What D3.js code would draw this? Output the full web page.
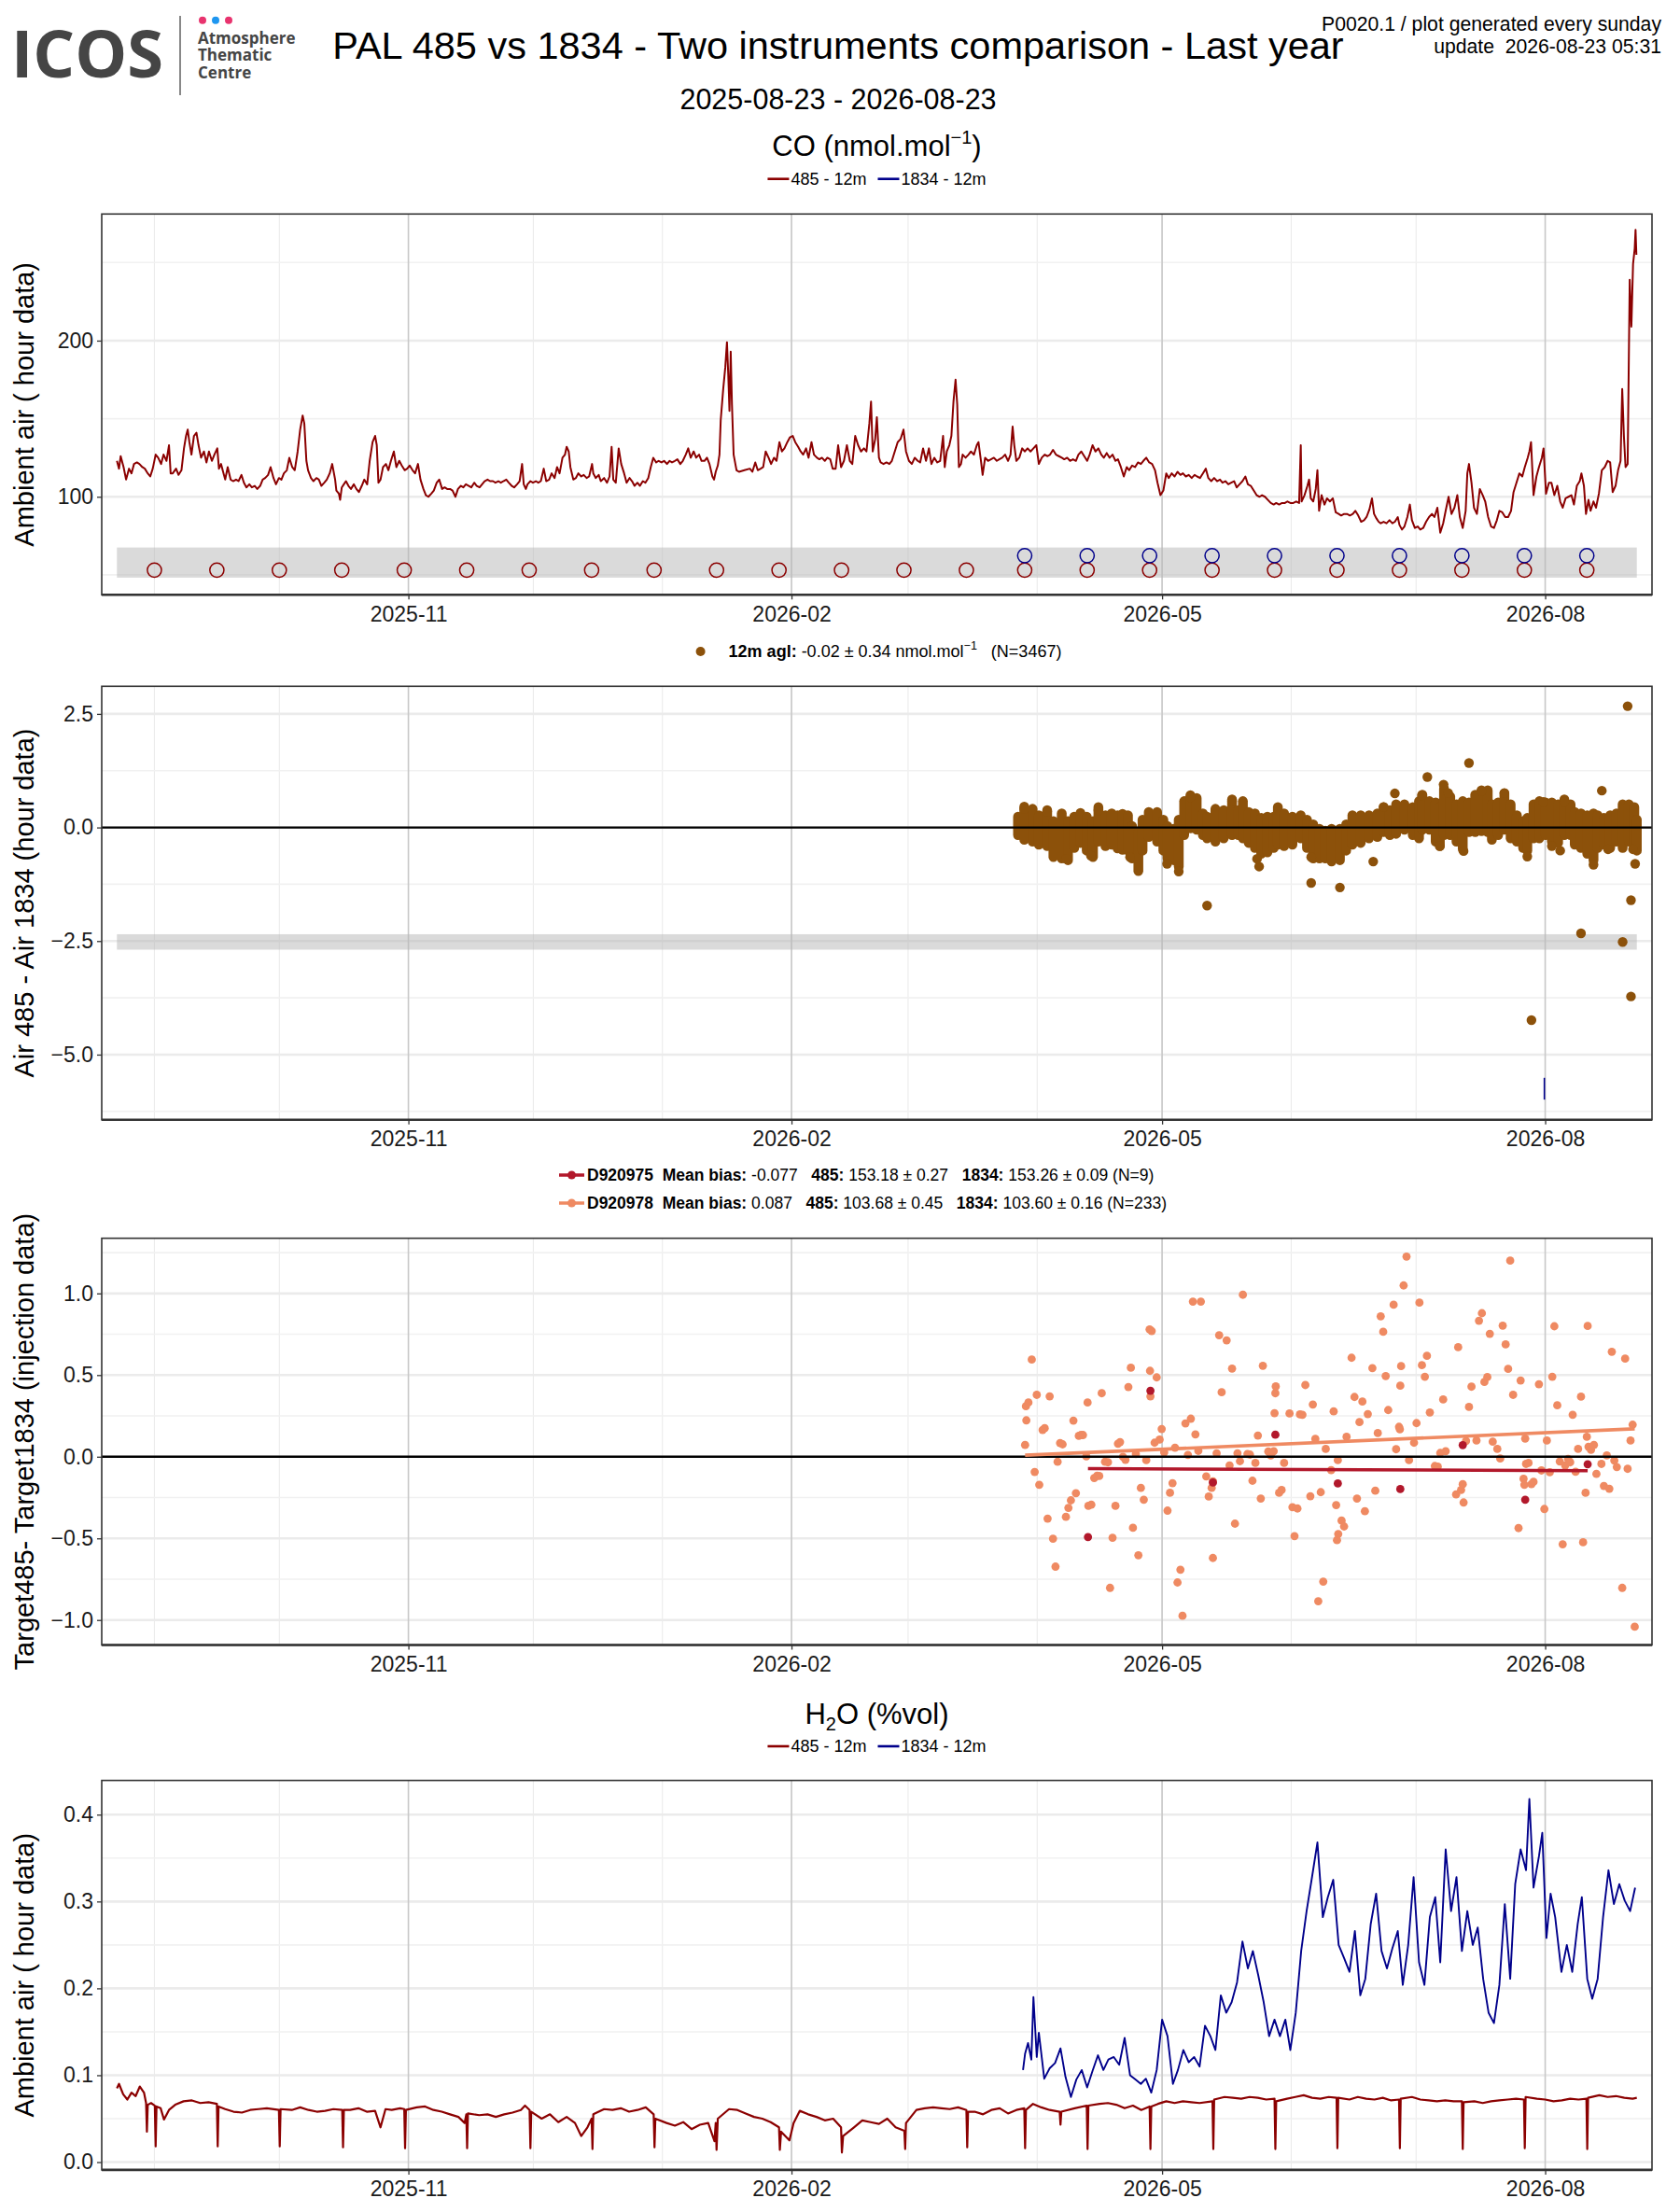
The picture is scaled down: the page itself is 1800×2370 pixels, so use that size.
<!DOCTYPE html>
<html><head><meta charset="utf-8">
<script src="https://cdn.jsdelivr.net/npm/d3@7"></script>
<style>
body{margin:0;background:#fff}
svg text{font-family:"Liberation Sans",Arial,Helvetica,sans-serif;white-space:pre}
</style>
</head><body>
<svg id="chart" width="1800" height="2370"></svg>
<script>
// ---------------- DATA ----------------
const startDate = "2025-08-23";
const endDate = "2026-08-23";
const xTickLabels = ["2025-11","2026-02","2026-05","2026-08"];
const mainTitle = "PAL 485 vs 1834 - Two instruments comparison - Last year";
const infoLines = ["P0020.1 / plot generated every sunday","update  2026-08-23 05:31"];

// CO 485 hourly series, [day since start, nmol/mol]
const co485 = [[0,123],[0.5,118],[0.9,126],[1.6,119],[2.2,111],[2.9,118],[3.5,115],[4.1,121],[4.8,122],[5.4,121],[6.1,119],[6.7,118],[7.4,115],[8.0,113],[8.6,118],[9.3,127],[9.9,125],[10.6,121],[11.2,127],[11.9,123],[12.5,133],[12.9,115],[13.4,115],[14.2,118],[14.8,114],[15.5,117],[16.1,131],[16.6,139],[17.0,143],[17.4,135],[17.9,127],[18.5,139],[19.1,141],[19.6,133],[20.2,125],[20.9,129],[21.5,122],[22.1,129],[22.8,123],[23.4,127],[24.1,131],[24.5,118],[25.0,121],[25.5,116],[26.0,111],[26.6,119],[27.3,111],[27.9,110],[28.6,111],[29.2,110],[29.9,114],[30.5,109],[31.1,106],[31.8,108],[32.4,106],[33.1,107],[33.7,105],[34.4,107],[35.0,111],[35.6,112],[36.3,114],[36.9,119],[37.6,112],[38.2,108],[38.9,112],[39.5,111],[40.1,115],[40.8,117],[41.4,125],[42.1,119],[42.7,117],[43.4,129],[44.0,143],[44.6,152],[45.0,147],[45.5,123],[45.9,117],[46.6,112],[47.2,110],[47.9,112],[48.5,111],[49.1,107],[49.8,109],[50.4,111],[51.1,115],[51.7,121],[52.4,111],[52.7,104],[53.3,102],[53.6,98],[54.0,106],[54.5,108],[55.0,110],[55.6,107],[56.2,105],[56.9,108],[57.5,105],[58.1,103],[58.8,107],[59.4,111],[60.1,108],[60.7,123],[61.4,135],[62.0,139],[62.4,133],[62.8,109],[63.3,111],[63.9,119],[64.6,121],[65.2,117],[65.8,123],[66.5,129],[67.1,119],[67.8,123],[68.4,120],[69.1,117],[69.7,118],[70.3,120],[71.0,117],[71.6,115],[72.3,121],[72.9,111],[73.6,105],[74.2,101],[74.8,100],[75.5,102],[76.1,104],[76.8,109],[77.4,111],[78.1,105],[78.7,106],[79.3,105],[80.0,105],[80.6,104],[81.3,100],[81.9,105],[82.6,107],[83.2,106],[83.8,108],[84.5,107],[85.1,106],[85.8,109],[86.4,107],[87.1,106],[87.7,108],[88.3,110],[89.0,111],[89.6,110],[90.3,110],[90.9,109],[91.6,110],[92.2,109],[92.8,110],[93.5,111],[94.1,109],[94.8,107],[95.4,106],[96.1,108],[96.7,110],[97.3,121],[97.7,108],[98.2,105],[98.6,108],[99.3,110],[99.9,109],[100.6,110],[101.2,109],[101.8,110],[102.5,118],[103.1,110],[103.8,111],[104.4,115],[105.1,112],[105.7,119],[106.3,115],[107.0,125],[107.6,127],[108.0,132],[108.5,129],[108.9,119],[109.6,111],[110.2,112],[110.8,115],[111.5,113],[112.1,114],[112.8,112],[113.4,113],[114.1,121],[114.4,115],[115.0,112],[115.7,114],[116.2,110],[117.0,112],[117.7,109],[118.3,113],[118.8,132],[119.2,111],[119.8,109],[120.5,131],[121.1,121],[121.8,115],[122.4,109],[123.1,112],[123.7,110],[124.3,107],[125.0,109],[125.6,107],[126.3,110],[126.9,109],[127.6,112],[128.2,119],[128.8,125],[129.5,122],[130.1,123],[130.8,122],[131.4,123],[132.1,121],[132.7,123],[133.3,122],[134.0,123],[134.6,124],[135.3,121],[135.9,123],[136.6,127],[137.2,131],[137.8,125],[138.5,129],[139.1,125],[139.8,127],[140.4,123],[141.1,123],[141.7,125],[142.3,121],[143.0,113],[143.4,111],[143.8,116],[144.3,120],[144.7,127],[145.0,149],[145.6,169],[146.1,183],[146.5,199],[146.8,179],[147.1,155],[147.4,193],[147.7,159],[148.1,127],[148.8,117],[149.4,116],[150.7,117],[152.0,118],[152.6,116],[153.3,122],[153.9,117],[154.6,118],[155.2,119],[155.8,129],[156.5,125],[157.1,121],[157.8,125],[158.4,123],[159.1,135],[159.7,129],[160.3,131],[161.0,135],[161.6,138],[162.3,139],[162.9,135],[163.6,132],[164.2,129],[164.8,127],[165.5,131],[166.1,125],[166.8,135],[167.4,127],[168.1,125],[168.7,124],[169.3,125],[170.0,123],[170.6,125],[171.3,124],[171.9,118],[172.6,118],[173.2,133],[173.9,119],[174.6,123],[175.3,133],[176.0,123],[176.6,121],[177.3,139],[178.0,133],[178.7,129],[179.4,131],[180.0,129],[180.7,147],[181.1,161],[181.5,129],[182.1,137],[182.5,151],[183.0,125],[183.4,122],[184.1,121],[184.8,122],[185.5,121],[186.1,123],[186.8,129],[187.5,135],[188.2,137],[188.9,143],[189.5,129],[190.2,123],[190.9,121],[191.6,125],[192.3,123],[192.9,122],[193.6,131],[194.3,123],[195.0,131],[195.6,121],[196.3,125],[197.0,122],[197.7,123],[198.4,139],[198.8,119],[199.3,129],[199.9,133],[200.4,139],[200.9,161],[201.4,175],[201.8,159],[202.2,119],[202.7,121],[203.1,127],[203.8,125],[204.5,127],[205.1,129],[205.8,127],[206.5,133],[206.9,135],[207.5,123],[207.9,114],[208.5,125],[209.2,123],[209.9,124],[210.6,125],[211.3,123],[211.9,124],[212.6,125],[213.3,127],[214.0,123],[214.6,127],[215.1,145],[215.5,133],[216.0,123],[216.7,125],[217.4,131],[218.0,129],[218.7,131],[219.4,129],[220.1,131],[220.8,133],[221.4,121],[222.1,125],[222.8,127],[223.5,126],[224.1,127],[224.8,130],[225.5,127],[226.2,126],[226.9,125],[227.5,124],[228.2,125],[228.9,123],[229.6,124],[230.3,123],[230.9,127],[231.6,129],[232.3,126],[233.0,123],[233.6,127],[234.3,133],[235.0,129],[235.7,131],[236.4,127],[237.0,125],[237.7,128],[238.4,125],[239.1,127],[239.8,123],[240.4,124],[241.1,119],[241.8,113],[242.5,119],[243.1,117],[243.8,120],[244.5,119],[245.2,122],[245.9,121],[246.5,123],[247.2,125],[247.9,122],[248.6,121],[249.3,117],[249.9,109],[250.6,101],[251.3,104],[252.0,115],[252.6,112],[253.3,115],[254.0,113],[254.7,116],[255.4,114],[256.0,115],[256.7,113],[257.4,114],[258.1,112],[258.8,114],[259.4,113],[260.1,112],[260.8,115],[261.5,118],[262.1,112],[262.8,110],[263.5,112],[264.2,110],[264.9,111],[265.5,109],[266.2,110],[266.9,108],[267.6,109],[268.3,110],[268.9,106],[269.6,108],[270.3,110],[271.0,113],[271.6,108],[272.3,107],[273.0,104],[273.7,101],[274.4,100],[275.0,101],[275.7,100],[276.4,98],[277.1,96],[277.8,95],[278.4,96],[279.1,95],[279.8,96],[280.5,96],[281.1,97],[281.8,96],[282.5,96],[283.2,97],[283.9,96],[284.3,133],[284.5,97],[285.2,101],[285.9,107],[286.3,111],[286.7,99],[287.3,97],[287.9,105],[288.3,117],[288.7,91],[289.3,101],[290.0,95],[290.6,99],[291.3,97],[292.0,99],[292.7,90],[293.4,89],[294.0,88],[294.7,89],[295.4,89],[296.1,88],[296.8,89],[297.4,91],[298.1,88],[298.8,84],[299.5,85],[300.1,87],[300.8,92],[301.4,99],[301.9,89],[302.5,86],[303.0,84],[303.5,83],[304.2,84],[304.9,83],[305.6,85],[306.3,83],[306.9,84],[307.6,87],[308.0,82],[308.6,79],[309.2,81],[309.9,87],[310.5,95],[311.0,85],[311.7,80],[312.4,81],[313.0,79],[313.7,80],[314.4,84],[315.1,87],[315.8,89],[316.4,87],[317.1,93],[317.8,77],[318.5,83],[319.1,91],[319.8,100],[320.5,89],[321.2,93],[321.9,101],[322.5,87],[323.2,80],[323.9,91],[324.3,115],[324.7,121],[325.3,109],[325.9,93],[326.6,89],[327.3,105],[328.0,101],[328.6,97],[329.3,87],[330.0,81],[330.7,80],[331.4,85],[332.0,91],[332.7,90],[333.4,87],[334.1,87],[334.8,91],[335.4,103],[336.1,109],[336.8,115],[337.5,113],[338.1,119],[338.8,125],[339.2,129],[339.6,135],[340.2,101],[340.9,113],[341.5,119],[342.2,125],[342.6,131],[343.2,102],[343.9,109],[344.5,109],[345.2,101],[345.9,107],[346.6,97],[347.2,93],[347.9,99],[348.6,100],[349.3,101],[349.9,95],[350.6,107],[351.3,110],[351.7,115],[352.3,107],[352.8,89],[353.4,98],[353.9,91],[354.6,97],[355.2,93],[355.9,102],[356.6,117],[357.3,119],[358.0,123],[358.6,122],[359.2,103],[359.9,107],[360.5,117],[361.1,123],[361.5,169],[361.9,139],[362.3,119],[362.8,121],[363.3,239],[363.7,209],[364.1,249],[364.5,259],[364.7,271],[364.9,255]];

// target injection dates (circles in CO panel)
const targetDates485 = ["2025-09-01","2025-09-16","2025-10-01","2025-10-16","2025-10-31","2025-11-15","2025-11-30","2025-12-15","2025-12-30","2026-01-14","2026-01-29","2026-02-13","2026-02-28","2026-03-15","2026-03-29","2026-04-13","2026-04-28","2026-05-13","2026-05-28","2026-06-12","2026-06-27","2026-07-12","2026-07-27","2026-08-11"];
const targetDates1834 = ["2026-03-29","2026-04-13","2026-04-28","2026-05-13","2026-05-28","2026-06-12","2026-06-27","2026-07-12","2026-07-27","2026-08-11"];
const targetMarkLevel = {i485:53.0, i1834:62.3};
const coTargetBand = [48.2, 67.5];

// Air 485 - Air 1834 : dense hourly cloud, [day, low, high]
const diffBand = [[216.4,-0.17,0.24],[217.9,-0.27,0.46],[219.9,-0.31,0.41],[221.4,-0.38,0.27],[223.4,-0.41,0.38],[224.9,-0.65,0.14],[226.9,-0.68,0.31],[228.4,-0.72,0.14],[229.9,-0.45,0.24],[231.4,-0.34,0.32],[232.9,-0.51,0.24],[234.4,-0.65,0.14],[235.7,-0.31,0.45],[237.4,-0.41,0.27],[238.9,-0.38,0.31],[240.3,-0.46,0.27],[241.5,-0.49,0.3],[242.8,-0.51,0.27],[243.8,-0.68,0.03],[245.3,-0.96,-0.1],[246.3,-0.51,0.17],[247.8,-0.21,0.34],[249.8,-0.31,0.34],[251.3,-0.51,0.17],[252.3,-0.68,0.03],[253.8,-0.72,-0.03],[255.0,-0.86,0.17],[256.3,-0.17,0.58],[257.8,-0.02,0.71],[259.3,-0.05,0.65],[260.8,-0.17,0.31],[261.8,-0.24,0.24],[263.8,-0.31,0.41],[265.8,-0.24,0.38],[267.8,-0.17,0.62],[269.3,-0.17,0.38],[270.4,-0.24,0.58],[271.8,-0.34,0.34],[273.3,-0.45,0.31],[274.8,-0.58,0.21],[276.3,-0.55,0.24],[277.8,-0.45,0.24],[278.8,-0.38,0.45],[280.3,-0.41,0.31],[282.3,-0.38,0.24],[284.3,-0.24,0.27],[285.8,-0.45,0.17],[287.3,-0.68,0.07],[288.8,-0.68,-0.03],[290.2,-0.68,-0.07],[291.7,-0.75,-0.03],[293.7,-0.72,-0.03],[295.2,-0.51,0.07],[296.7,-0.38,0.27],[298.7,-0.34,0.27],[300.7,-0.24,0.27],[302.7,-0.21,0.31],[304.2,-0.10,0.45],[305.7,-0.17,0.38],[307.2,-0.14,0.51],[309.2,-0.05,0.51],[311.2,-0.17,0.45],[312.7,-0.24,0.58],[313.5,-0.05,0.72],[315.2,-0.05,0.58],[316.7,-0.31,0.55],[317.7,-0.41,0.45],[318.7,-0.17,0.86],[320.2,-0.17,0.68],[321.7,-0.31,0.51],[323.2,-0.48,0.58],[324.7,-0.1,0.55],[326.2,-0.1,0.72],[327.7,-0.08,0.82],[329.2,-0.1,0.82],[330.2,-0.27,0.51],[331.7,-0.17,0.55],[333.2,-0.05,0.75],[334.7,-0.24,0.51],[336.2,-0.31,0.27],[337.7,-0.45,0.14],[338.7,-0.51,0.21],[340.2,-0.24,0.51],[341.6,-0.24,0.58],[343.1,-0.17,0.55],[344.6,-0.31,0.55],[346.1,-0.34,0.51],[347.6,-0.17,0.62],[349.1,-0.17,0.51],[350.1,-0.38,0.34],[351.6,-0.45,0.31],[353.1,-0.58,0.27],[354.6,-0.72,0.31],[355.6,-0.45,0.27],[357.1,-0.38,0.21],[358.6,-0.45,0.27],[360.1,-0.31,0.31],[361.6,-0.45,0.51],[363.1,-0.31,0.51],[364.4,-0.45,0.45],[365.0,-0.51,0.17]];
// isolated hourly differences [day, value]
const diffOutliers = [[324.7,1.42],[314.7,1.11],[318.6,0.945],[306.9,0.75],[356.6,0.81],[261.8,-1.72],[286.8,-1.22],[293.7,-1.32],[301.7,-0.75],[351.6,-2.33],[361.6,-2.52],[363.6,-1.60],[364.6,-0.80],[346.6,-0.51],[344.6,-0.41],[274.3,-0.86],[252.2,-0.80],[255.0,-0.97],[338.7,-0.64],[354.6,-0.82],[362.8,2.67],[363.6,-3.72],[339.7,-4.24],[217.9,0.41],[223.4,0.35],[235.7,0.38],[257.8,0.67],[267.8,0.57],[304.2,0.45],[313.4,0.71],[319.7,0.76],[327.7,0.80],[333.2,0.76],[342.6,0.56],[347.6,0.56],[227.9,-0.69],[233.9,-0.62],[243.3,-0.65],[273.8,-0.69],[286.8,-0.65],[317.7,-0.41],[323.4,-0.52],[358.1,-0.48],[364.1,-0.48]];
const diffBandGray = [-2.69, -2.35];
const diffBlueSeg = [[342.8,-5.51],[342.8,-5.99]];
const diffLegend = {site:"12m agl:", stat:" -0.02 \u00b1 0.34 nmol.mol", n:"   (N=3467)"};

// Target485 - Target1834 (injection data), [day, value]
const tgt975 = [[233.2,-0.492],[248.2,0.404],[263.2,-0.158],[278.2,0.135],[293.2,-0.164],[308.2,-0.198],[323.2,0.071],[338.2,-0.263],[353.2,-0.046]];
const tgt978 = [[218.1,0.072],[218.3,0.309],[218.9,0.332],[218.4,0.223],[219.7,0.595],[220.4,-0.093],[220.9,0.379],[221.5,-0.172],[222.3,0.164],[222.8,0.175],[223.5,-0.379],[224.0,0.370],[224.8,-0.502],[225.4,-0.673],[225.9,-0.031],[226.5,0.084],[227.1,0.076],[227.9,-0.368],[228.5,-0.313],[229.1,-0.267],[229.7,0.221],[230.3,-0.223],[231.0,0.128],[231.5,0.133],[232.0,0.133],[232.8,0.002],[233.1,0.332],[233.3,-0.301],[234.0,-0.294],[234.7,-0.130],[235.4,-0.116],[235.9,-0.118],[236.5,0.389],[237.3,-0.031],[238.0,-0.034],[238.5,-0.803],[239.1,-0.496],[239.8,-0.301],[240.4,0.080],[240.9,0.090],[241.6,0.0],[242.2,-0.019],[242.9,0.427],[243.5,0.545],[244.0,-0.435],[244.7,0.017],[245.3,-0.603],[245.9,-0.191],[246.6,-0.263],[247.2,-0.021],[248.0,0.780],[248.5,0.770],[248.1,0.526],[248.2,0.370],[249.2,0.086],[249.7,0.486],[250.4,0.105],[250.9,0.170],[251.5,0.027],[252.3,-0.330],[252.9,-0.221],[253.5,-0.162],[254.1,0.055],[254.7,-0.770],[255.4,-0.692],[255.9,-0.974],[256.6,0.204],[257.2,0.011],[257.9,0.233],[258.4,0.950],[259.0,0.137],[259.7,0.036],[260.3,0.950],[261.6,-0.120],[262.2,-0.244],[262.9,-0.191],[263.2,-0.151],[263.2,-0.620],[264.1,0.021],[264.7,0.744],[265.3,0.395],[266.5,0.713],[267.2,-0.053],[267.8,0.540],[268.5,-0.410],[269.1,0.021],[269.7,-0.027],[270.4,0.992],[271.5,0.017],[272.1,0.013],[272.7,-0.147],[273.4,-0.038],[274.0,0.130],[274.7,-0.256],[275.2,0.557],[276.5,0.032],[277.1,0.008],[277.8,0.034],[278.0,0.267],[278.2,0.389],[278.3,0.431],[279.1,-0.221],[279.7,-0.204],[280.3,-0.038],[281.6,0.265],[282.3,-0.309],[282.8,-0.486],[283.5,-0.317],[284.1,0.259],[284.7,0.257],[285.4,0.439],[286.6,-0.242],[287.2,0.320],[287.8,0.109],[288.5,-0.885],[289.1,-0.217],[289.7,-0.765],[290.3,0.048],[291.6,-0.082],[292.2,0.278],[292.8,-0.296],[293.0,-0.511],[293.3,-0.473],[293.2,-0.021],[294.1,-0.391],[294.7,-0.427],[295.3,0.122],[296.5,0.606],[297.2,0.366],[297.8,-0.256],[298.4,0.212],[299.1,0.338],[299.7,-0.334],[300.4,0.261],[301.5,0.543],[302.2,-0.208],[302.8,0.145],[303.5,0.860],[304.1,0.765],[304.7,0.494],[305.3,0.286],[306.6,0.931],[307.2,0.046],[307.9,0.183],[308.1,0.168],[308.2,0.435],[308.4,0.555],[309.0,1.049],[309.7,1.226],[310.3,-0.021],[311.5,0.086],[312.1,0.206],[312.8,0.944],[313.4,0.561],[314.1,0.490],[314.6,0.618],[315.3,0.271],[316.5,-0.057],[317.2,-0.061],[317.8,0.023],[318.5,0.351],[319.1,0.034],[321.6,-0.231],[322.1,0.671],[322.8,-0.204],[323.2,-0.168],[323.4,-0.280],[324.0,0.097],[324.7,0.305],[325.3,0.429],[326.5,0.099],[327.1,0.833],[327.8,0.879],[328.4,0.458],[329.1,0.488],[329.7,0.753],[330.4,0.092],[331.5,0.048],[332.2,-0.011],[332.8,0.803],[333.5,0.688],[334.1,0.538],[334.6,1.201],[335.3,0.379],[336.6,-0.437],[337.1,0.467],[337.8,-0.135],[338.0,-0.172],[338.2,0.111],[338.4,-0.044],[339.0,-0.038],[339.7,-0.168],[340.2,-0.154],[341.5,0.444],[342.1,-0.084],[342.8,-0.320],[343.4,0.099],[344.1,-0.095],[344.7,0.490],[345.2,0.799],[345.9,0.315],[346.5,-0.029],[347.2,-0.536],[347.8,-0.053],[348.5,-0.013],[349.0,-0.034],[349.6,0.257],[350.3,-0.092],[350.9,0.048],[351.6,0.368],[352.1,-0.524],[352.7,-0.221],[353.0,0.122],[353.2,0.801],[353.4,0.061],[354.0,0.042],[354.7,0.072],[355.3,-0.105],[356.5,-0.044],[357.1,-0.179],[357.8,0.008],[358.4,-0.196],[359.0,0.643],[359.6,-0.023],[360.2,-0.063],[361.5,-0.803],[362.2,0.601],[362.8,-0.074],[363.5,0.099],[364.0,0.196],[364.5,-1.041]];
const tgtLegend = [
  {id:"D920975", bias:" -0.077   ", m485:" 153.18 \u00b1 0.27   ", m1834:" 153.26 \u00b1 0.09 (N=9)"},
  {id:"D920978", bias:" 0.087   ", m485:" 103.68 \u00b1 0.45   ", m1834:" 103.60 \u00b1 0.16 (N=233)"}
];

// H2O (%vol), [day, value]
const h2o485 = [[0,0.085],[0.5,0.09],[1.5,0.078],[2.5,0.072],[3.5,0.08],[4.5,0.076],[5.5,0.087],[6.5,0.08],[7.0,0.068],[7.2,0.035],[7.4,0.066],[8.2,0.068],[9.1,0.065],[9.3,0.018],[9.5,0.064],[10.5,0.062],[11.3,0.049],[12.5,0.06],[14,0.066],[16,0.07],[18,0.071],[20,0.068],[22,0.069],[24.0,0.067],[24.2,0.018],[24.4,0.064],[26,0.061],[28,0.058],[30,0.057],[32,0.06],[34,0.061],[36,0.062],[38.9,0.06],[39.1,0.018],[39.3,0.061],[42,0.06],[44,0.063],[46,0.06],[48,0.058],[50,0.059],[52,0.061],[54.1,0.06],[54.3,0.017],[54.5,0.06],[56,0.06],[58,0.062],[60,0.058],[62,0.059],[63.3,0.04],[64.5,0.061],[66,0.06],[68,0.062],[69.0,0.061],[69.2,0.016],[69.4,0.06],[72,0.063],[74,0.064],[76,0.06],[78,0.058],[80,0.055],[82,0.052],[83.5,0.045],[83.9,0.055],[84.1,0.016],[84.3,0.056],[87,0.054],[89,0.055],[91,0.052],[93,0.055],[95,0.057],[97,0.06],[98,0.065],[99.1,0.06],[99.3,0.016],[99.5,0.058],[102,0.05],[104,0.055],[106,0.046],[108,0.052],[110,0.045],[111.5,0.03],[113,0.04],[114.0,0.05],[114.2,0.015],[114.4,0.055],[117,0.061],[119,0.06],[121,0.062],[123,0.058],[125,0.06],[127,0.063],[128.9,0.055],[129.1,0.017],[129.3,0.05],[132,0.045],[134,0.042],[136,0.046],[138,0.038],[140,0.043],[142,0.045],[143.5,0.024],[143.8,0.045],[144.0,0.014],[144.3,0.05],[147,0.061],[149,0.06],[151,0.056],[153,0.052],[155,0.05],[157,0.046],[159.0,0.04],[159.2,0.014],[159.5,0.035],[161.5,0.025],[162.5,0.045],[164,0.059],[166,0.055],[168,0.052],[170,0.048],[172,0.05],[173.9,0.04],[174.1,0.011],[174.4,0.03],[177,0.04],[179,0.048],[181,0.046],[183,0.044],[185,0.05],[187,0.04],[189.1,0.036],[189.3,0.015],[189.5,0.045],[192,0.06],[194,0.062],[196,0.063],[198,0.062],[200,0.061],[202,0.063],[204.0,0.06],[204.2,0.017],[204.4,0.058],[206,0.058],[208,0.055],[210,0.06],[212,0.062],[214,0.056],[216,0.06],[217.9,0.062],[218.1,0.016],[218.3,0.06],[220,0.067],[222,0.063],[224,0.06],[226.4,0.058],[226.6,0.043],[226.8,0.058],[230,0.062],[232.9,0.065],[233.1,0.015],[233.3,0.065],[236,0.067],[238,0.068],[240,0.066],[242,0.062],[244,0.065],[246,0.06],[248.0,0.064],[248.2,0.015],[248.4,0.064],[250,0.067],[252,0.07],[254,0.068],[256,0.07],[258,0.069],[260,0.068],[263.1,0.07],[263.3,0.015],[263.5,0.072],[266,0.075],[268,0.074],[270,0.073],[272,0.075],[274,0.074],[276,0.072],[278.0,0.073],[278.2,0.015],[278.4,0.07],[281,0.073],[283,0.075],[285,0.077],[287,0.074],[289,0.073],[291,0.075],[292.9,0.074],[293.1,0.016],[293.3,0.074],[296,0.072],[298,0.075],[300,0.073],[302,0.072],[304,0.074],[306,0.071],[307.9,0.072],[308.1,0.016],[308.3,0.073],[311,0.075],[313,0.072],[315,0.071],[317,0.07],[319,0.071],[321,0.07],[323.0,0.07],[323.2,0.015],[323.4,0.069],[326,0.07],[328,0.068],[330,0.07],[332,0.071],[334,0.072],[336,0.073],[337.9,0.072],[338.1,0.016],[338.3,0.075],[341,0.073],[343,0.072],[345,0.07],[347,0.071],[349,0.073],[351,0.072],[352.9,0.073],[353.1,0.015],[353.3,0.074],[356,0.077],[358,0.075],[360,0.076],[362,0.074],[364,0.073],[365,0.074]];
const h2o1834 = [[217.6,0.106],[218.1,0.125],[218.8,0.137],[219.6,0.118],[220.1,0.19],[220.9,0.121],[221.4,0.149],[222.7,0.096],[224.0,0.108],[225.3,0.114],[226.6,0.131],[227.8,0.098],[229.1,0.075],[230.4,0.095],[231.7,0.106],[233.0,0.086],[234.3,0.105],[235.6,0.123],[236.9,0.106],[238.1,0.118],[239.4,0.121],[240.7,0.112],[242.0,0.143],[243.3,0.1],[244.6,0.095],[245.9,0.09],[247.1,0.096],[248.4,0.08],[249.7,0.106],[251.0,0.164],[252.3,0.145],[253.6,0.09],[254.8,0.106],[256.1,0.129],[257.4,0.115],[258.7,0.121],[260.0,0.11],[261.3,0.157],[262.6,0.145],[263.8,0.129],[265.1,0.192],[266.4,0.172],[267.7,0.184],[269.0,0.207],[270.3,0.254],[271.6,0.223],[272.8,0.243],[274.1,0.215],[275.4,0.184],[276.7,0.145],[278.0,0.164],[279.3,0.145],[280.6,0.164],[281.8,0.129],[283.1,0.172],[284.4,0.243],[285.7,0.289],[287.0,0.328],[288.3,0.368],[289.6,0.282],[290.8,0.305],[292.1,0.325],[293.4,0.25],[294.7,0.235],[296.0,0.219],[297.3,0.266],[298.6,0.192],[299.8,0.211],[301.1,0.274],[302.4,0.309],[303.7,0.243],[305.0,0.223],[306.3,0.246],[307.6,0.266],[308.8,0.204],[310.1,0.25],[311.4,0.328],[312.7,0.23],[314.0,0.204],[315.3,0.282],[316.6,0.305],[317.8,0.23],[319.1,0.36],[320.4,0.289],[321.7,0.328],[323.0,0.243],[324.3,0.289],[325.6,0.25],[326.8,0.27],[328.1,0.211],[329.4,0.172],[330.7,0.16],[332.0,0.204],[333.3,0.297],[334.6,0.211],[335.8,0.32],[337.1,0.36],[338.4,0.336],[339.2,0.418],[340.2,0.316],[341.5,0.352],[342.3,0.379],[343.3,0.258],[344.3,0.309],[345.4,0.282],[346.9,0.219],[348.2,0.25],[349.5,0.219],[350.8,0.274],[351.8,0.305],[353.1,0.211],[354.3,0.188],[355.6,0.211],[356.9,0.282],[358.2,0.336],[359.5,0.297],[360.8,0.32],[362.1,0.301],[363.4,0.289],[364.6,0.316]];

const seriesNames = ["485 - 12m","1834 - 12m"];

// ---------------- STYLE ----------------
const C485 = "#8b0000", C1834 = "#00008b", CBROWN = "#8c510a", CORANGE = "#ef8a62", CDARK = "#b2182b";
const PL = 109, PR = 1770;
const TICK_FS = 23, YTITLE_FS = 29, PTITLE_FS = 31;

const svg = d3.select("#chart");
svg.append("rect").attr("width",1800).attr("height",2370).attr("fill","#fff");

const parseDay = d3.utcParse("%Y-%m-%d"), parseMonth = d3.utcParse("%Y-%m");
const t0 = parseDay(startDate), t1 = parseDay(endDate);
const span = t1 - t0;
const dayToDate = d => new Date(t0.getTime() + d*864e5);
const x = d3.scaleUtc().domain([new Date(+t0 - 0.01*span), new Date(+t1 + 0.01*span)]).range([PL, PR]);
const xd = d => x(dayToDate(d));
const majorX = xTickLabels.map(parseMonth);
const minorX = d3.utcMonth.range(d3.utcMonth.ceil(x.domain()[0]), x.domain()[1]);

function panel(cfg){
  const y = d3.scaleLinear().domain(cfg.yDomain).range([cfg.bottom, cfg.top]);
  const g = svg.append("g");
  const grid = g.append("g");
  grid.selectAll(".mx").data(minorX).join("line").attr("x1",x).attr("x2",x).attr("y1",cfg.top).attr("y2",cfg.bottom).attr("stroke","#ebebeb").attr("stroke-width",1.1);
  grid.selectAll(".my").data(cfg.yMinor).join("line").attr("x1",PL).attr("x2",PR).attr("y1",y).attr("y2",y).attr("stroke","#f1f1f1").attr("stroke-width",1.6);
  grid.selectAll(".My").data(cfg.yMajor).join("line").attr("x1",PL).attr("x2",PR).attr("y1",y).attr("y2",y).attr("stroke","#ebebeb").attr("stroke-width",2.6);
  grid.selectAll(".Mx").data(majorX).join("line").attr("x1",x).attr("x2",x).attr("y1",cfg.top).attr("y2",cfg.bottom).attr("stroke","#c8c8c8").attr("stroke-width",1.6);
  const marks = g.append("g");
  const ax = g.append("g").attr("transform",`translate(${PL},0)`)
    .call(d3.axisLeft(y).tickValues(cfg.yMajor).tickFormat(cfg.fmt).tickSize(5).tickPadding(4));
  const bx = g.append("g").attr("transform",`translate(0,${cfg.bottom})`)
    .call(d3.axisBottom(x).tickValues(majorX).tickFormat(d3.utcFormat("%Y-%m")).tickSize(5).tickPadding(7));
  [ax,bx].forEach(a=>{
    a.select(".domain").remove();
    a.selectAll(".tick line").attr("stroke","#333").attr("stroke-width",1.3);
    a.selectAll(".tick text").attr("font-size",TICK_FS).attr("fill","#1a1a1a").attr("font-family","Liberation Sans, Arial, sans-serif");
  });
  g.append("rect").attr("x",PL).attr("y",cfg.top).attr("width",PR-PL).attr("height",cfg.bottom-cfg.top)
    .attr("fill","none").attr("stroke","#333").attr("stroke-width",1.6);
  g.append("line").attr("x1",PL).attr("x2",PR).attr("y1",cfg.bottom).attr("y2",cfg.bottom).attr("stroke","#333").attr("stroke-width",2.6);
  const ym = (cfg.top+cfg.bottom)/2;
  g.append("text").attr("transform",`translate(36,${ym}) rotate(-90)`).attr("text-anchor","middle")
    .attr("font-size",YTITLE_FS).attr("fill","#000").text(cfg.title);
  return {g, marks, y, cfg};
}

// ---------------- HEADER ----------------
svg.append("text").attr("x",12).attr("y",83).attr("font-size",70).attr("font-weight",700)
  .attr("textLength",163).attr("lengthAdjust","spacingAndGlyphs")
  .style("font-family","'Open Sans',sans-serif").attr("fill","#454545").text("ICOS");
svg.append("line").attr("x1",193).attr("x2",193).attr("y1",17).attr("y2",102).attr("stroke","#555").attr("stroke-width",1.4);
[["#e8336e",217],["#1e96f0",231],["#e8336e",245]].forEach(([c,cx])=>svg.append("circle").attr("cx",cx).attr("cy",21.7).attr("r",4).attr("fill",c));
["Atmosphere","Thematic","Centre"].forEach((t,i)=>svg.append("text").attr("x",212).attr("y",46.7+i*18.7)
  .attr("font-size",17).attr("font-weight",700).style("font-family","'Open Sans',sans-serif").attr("fill","#454545").text(t));

svg.append("text").attr("x",898).attr("y",62.7).attr("text-anchor","middle").attr("font-size",41.5).text(mainTitle);
svg.append("text").attr("x",898).attr("y",117).attr("text-anchor","middle").attr("font-size",30.5).text(startDate+" - "+endDate);
infoLines.forEach((t,i)=>svg.append("text").attr("x",1780).attr("y",33+i*23.5).attr("text-anchor","end").attr("font-size",21.2).text(t));

const PC = (PL+PR)/2;
function lineLegend(yc, items){
  const g = svg.append("g");
  let xp = 0;
  items.forEach(it=>{
    g.append("line").attr("x1",xp).attr("x2",xp+23).attr("y1",yc).attr("y2",yc).attr("stroke",it.color).attr("stroke-width",2.6);
    const t = g.append("text").attr("x",xp+25).attr("y",yc+6.3).attr("font-size",18).text(it.label);
    xp += 25 + t.node().getComputedTextLength() + 12;
  });
  g.attr("transform",`translate(${PC - (xp-12)/2},0)`);
}

// ---------------- PANEL 1: CO ----------------
{
  const t = svg.append("text").attr("x",PC).attr("y",167).attr("text-anchor","middle").attr("font-size",PTITLE_FS);
  t.append("tspan").text("CO (nmol.mol");
  t.append("tspan").attr("font-size",20).attr("dy",-13).text("\u22121");
  t.append("tspan").attr("dy",13).text(")");
  lineLegend(191.7, [{color:C485,label:seriesNames[0]},{color:C1834,label:seriesNames[1]}]);
}
const p1 = panel({top:229.3,bottom:637.3,yDomain:[37.2,281.1],yMajor:[100,200],yMinor:[50,150,250],fmt:d3.format("d"),title:"Ambient air ( hour data)"});
p1.marks.append("rect").attr("x",xd(0)).attr("width",xd(365)-xd(0))
  .attr("y",p1.y(coTargetBand[1])).attr("height",p1.y(coTargetBand[0])-p1.y(coTargetBand[1]))
  .attr("fill","#b5b5b5").attr("opacity",0.5);
p1.marks.append("path").datum(co485).attr("fill","none").attr("stroke",C485).attr("stroke-width",2).attr("stroke-linejoin","round")
  .attr("d",d3.line().x(d=>xd(d[0])).y(d=>p1.y(d[1])));
p1.marks.selectAll(".c485").data(targetDates485).join("circle").attr("cx",d=>x(parseDay(d))).attr("cy",p1.y(targetMarkLevel.i485))
  .attr("r",7.6).attr("fill","none").attr("stroke",C485).attr("stroke-width",1.5);
p1.marks.selectAll(".c1834").data(targetDates1834).join("circle").attr("cx",d=>x(parseDay(d))).attr("cy",p1.y(targetMarkLevel.i1834))
  .attr("r",7.6).attr("fill","none").attr("stroke",C1834).attr("stroke-width",1.5);

// ---------------- PANEL 2: difference ----------------
{
  const g = svg.append("g");
  g.append("circle").attr("cx",0).attr("cy",698).attr("r",5).attr("fill",CBROWN);
  const t = g.append("text").attr("x",30).attr("y",704).attr("font-size",18);
  t.append("tspan").attr("font-weight",700).text(diffLegend.site);
  t.append("tspan").text(diffLegend.stat);
  t.append("tspan").attr("font-size",12.5).attr("dy",-8).text("\u22121");
  t.append("tspan").attr("dy",8).text(diffLegend.n);
  const w = 30 + t.node().getComputedTextLength();
  g.attr("transform",`translate(${PC + 2 - (w-5)/2},0)`);
}
const p2 = panel({top:735.3,bottom:1199.8,yDomain:[-6.435,3.108],yMajor:[-5,-2.5,0,2.5],yMinor:[-6.25,-3.75,-1.25,1.25],fmt:d3.format(".1f"),title:"Air 485 - Air 1834 (hour data)"});
p2.marks.append("rect").attr("x",xd(0)).attr("width",xd(365)-xd(0))
  .attr("y",p2.y(diffBandGray[1])).attr("height",p2.y(diffBandGray[0])-p2.y(diffBandGray[1]))
  .attr("fill","#b5b5b5").attr("opacity",0.5);
{
  const gb = p2.marks.append("g").attr("stroke",CBROWN);
  gb.selectAll("line").data(diffBand).join("line").attr("x1",d=>xd(d[0])).attr("x2",d=>xd(d[0]))
    .attr("y1",d=>p2.y(d[1])).attr("y2",d=>p2.y(d[2])).attr("stroke-width",10.5).attr("stroke-linecap","round");
  p2.marks.selectAll(".out").data(diffOutliers).join("circle").attr("cx",d=>xd(d[0])).attr("cy",d=>p2.y(d[1])).attr("r",5.2).attr("fill",CBROWN);
  p2.marks.append("path").datum(diffBlueSeg).attr("stroke",C1834).attr("stroke-width",1.6).attr("fill","none")
    .attr("d",d3.line().x(d=>xd(d[0])).y(d=>p2.y(d[1])));
  p2.marks.append("line").attr("x1",PL).attr("x2",PR).attr("y1",p2.y(0)).attr("y2",p2.y(0)).attr("stroke","#000").attr("stroke-width",2.4);
}

// ---------------- PANEL 3: targets ----------------
{
  const rows = [{c:CDARK, y:1259},{c:CORANGE, y:1289}];
  tgtLegend.forEach((L,i)=>{
    const yc = rows[i].y;
    svg.append("line").attr("x1",599).attr("x2",626).attr("y1",yc).attr("y2",yc).attr("stroke",rows[i].c).attr("stroke-width",3.5);
    svg.append("circle").attr("cx",612.5).attr("cy",yc).attr("r",4.5).attr("fill",rows[i].c);
    const t = svg.append("text").attr("x",629).attr("y",yc+6).attr("font-size",17.5);
    t.append("tspan").attr("font-weight",700).text(L.id+"  Mean bias:");
    t.append("tspan").text(L.bias);
    t.append("tspan").attr("font-weight",700).text("485:");
    t.append("tspan").text(L.m485);
    t.append("tspan").attr("font-weight",700).text("1834:");
    t.append("tspan").text(L.m1834);
  });
}
const p3 = panel({top:1326.7,bottom:1762.5,yDomain:[-1.153,1.338],yMajor:[-1,-0.5,0,0.5,1],yMinor:[-0.75,-0.25,0.25,0.75,1.25],fmt:d3.format(".1f"),title:"Target485- Target1834 (injection data)"});
function linfit(pts){
  const mx=d3.mean(pts,p=>p[0]), my=d3.mean(pts,p=>p[1]);
  const b=d3.sum(pts,p=>(p[0]-mx)*(p[1]-my))/d3.sum(pts,p=>(p[0]-mx)**2), a=my-b*mx;
  const [e0,e1]=d3.extent(pts,p=>p[0]);
  return [[e0,a+b*e0],[e1,a+b*e1]];
}
p3.marks.selectAll(".o").data(tgt978).join("circle").attr("cx",d=>xd(d[0])).attr("cy",d=>p3.y(d[1])).attr("r",4.4).attr("fill",CORANGE);
p3.marks.selectAll(".r").data(tgt975).join("circle").attr("cx",d=>xd(d[0])).attr("cy",d=>p3.y(d[1])).attr("r",4.4).attr("fill",CDARK);
p3.marks.append("line").attr("x1",PL).attr("x2",PR).attr("y1",p3.y(0)).attr("y2",p3.y(0)).attr("stroke","#000").attr("stroke-width",2.4);
const fitLine = d3.line().x(d=>xd(d[0])).y(d=>p3.y(d[1]));
p3.marks.append("path").datum(linfit(tgt978)).attr("d",fitLine).attr("stroke",CORANGE).attr("stroke-width",3.6).attr("fill","none");
p3.marks.append("path").datum(linfit(tgt975)).attr("d",fitLine).attr("stroke",CDARK).attr("stroke-width",3.6).attr("fill","none");

// ---------------- PANEL 4: H2O ----------------
{
  const t = svg.append("text").attr("x",PC).attr("y",1847).attr("text-anchor","middle").attr("font-size",PTITLE_FS);
  t.append("tspan").text("H");
  t.append("tspan").attr("font-size",20).attr("dy",7).text("2");
  t.append("tspan").attr("dy",-7).text("O (%vol)");
  lineLegend(1871, [{color:C485,label:seriesNames[0]},{color:C1834,label:seriesNames[1]}]);
}
const p4 = panel({top:1907.6,bottom:2324.9,yDomain:[-0.009,0.4394],yMajor:[0,0.1,0.2,0.3,0.4],yMinor:[0.05,0.15,0.25,0.35],fmt:d3.format(".1f"),title:"Ambient air ( hour data)"});
const h2oLine = d3.line().x(d=>xd(d[0])).y(d=>p4.y(d[1]));
p4.marks.append("path").datum(h2o485).attr("d",h2oLine).attr("stroke",C485).attr("stroke-width",2.2).attr("fill","none").attr("stroke-linejoin","round");
p4.marks.append("path").datum(h2o1834).attr("d",h2oLine).attr("stroke",C1834).attr("stroke-width",1.9).attr("fill","none").attr("stroke-linejoin","round");
</script>
</body></html>
